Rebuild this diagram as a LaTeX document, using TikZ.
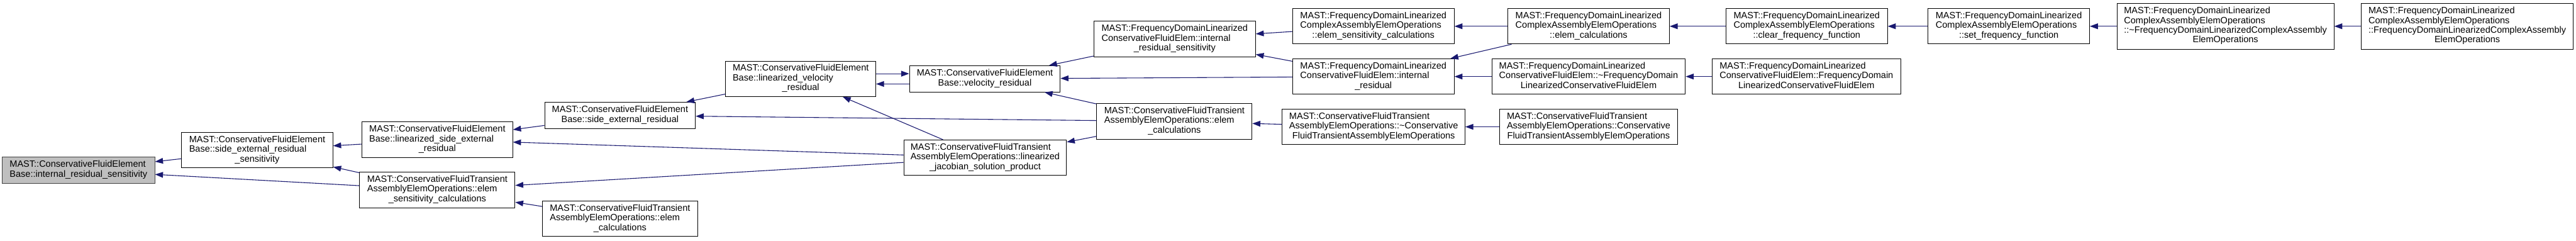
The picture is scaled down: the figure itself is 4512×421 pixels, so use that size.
\documentclass[tikz,border=0pt]{standalone}
\usepackage{fontspec}
\setmainfont{Liberation Sans}
\usetikzlibrary{arrows.meta}
\definecolor{edgec}{HTML}{191970}
\definecolor{focusfill}{HTML}{BFBFBF}
\newcommand{\lline}[1]{\multicolumn{1}{@{}l@{}}{#1}}
\newcommand{\tb}[1]{\begin{tabular}{@{}c@{}}#1\end{tabular}}
\tikzset{
 box/.style={rectangle, draw=black, line width=1pt, fill=white, inner sep=0pt, font=\fontsize{16}{17}\selectfont},
 focus/.style={box, fill=focusfill, draw=black!75},
 arr/.style={draw=edgec, line width=1.2pt, -{Triangle[length=14pt,width=10pt]}},
}
\begin{document}
\begin{tikzpicture}[x=1pt,y=-1pt]
\fill[white] (0,0) rectangle (4512,421);
\useasboundingbox (0,0) rectangle (4512,421);

\node[focus, minimum width=267pt, minimum height=46pt] (A) at (137.5,298) {\tb{\lline{MAST::ConservativeFluidElement}\\Base::internal\_residual\_sensitivity}};
\node[box, minimum width=265pt, minimum height=62pt] (B) at (450.5,263) {\tb{\lline{MAST::ConservativeFluidElement}\\\lline{Base::side\_external\_residual}\\\_sensitivity}};
\node[box, minimum width=264pt, minimum height=63pt] (C) at (766,244.5) {\tb{\lline{MAST::ConservativeFluidElement}\\\lline{Base::linearized\_side\_external}\\\_residual}};
\node[box, minimum width=272pt, minimum height=63pt] (E) at (766,332.5) {\tb{\lline{MAST::ConservativeFluidTransient}\\\lline{AssemblyElemOperations::elem}\\\_sensitivity\_calculations}};
\node[box, minimum width=264pt, minimum height=46pt] (D) at (1086,202) {\tb{\lline{MAST::ConservativeFluidElement}\\Base::side\_external\_residual}};
\node[box, minimum width=272pt, minimum height=62pt] (F) at (1086,383) {\tb{\lline{MAST::ConservativeFluidTransient}\\\lline{AssemblyElemOperations::elem}\\\_calculations}};
\node[box, minimum width=263pt, minimum height=62pt] (G) at (1402.5,138) {\tb{\lline{MAST::ConservativeFluidElement}\\\lline{Base::linearized\_velocity}\\\_residual}};
\node[box, minimum width=264pt, minimum height=46pt] (H) at (1725,138) {\tb{\lline{MAST::ConservativeFluidElement}\\Base::velocity\_residual}};
\node[box, minimum width=285pt, minimum height=62pt] (I) at (1725.5,276) {\tb{\lline{MAST::ConservativeFluidTransient}\\\lline{AssemblyElemOperations::linearized}\\\_jacobian\_solution\_product}};
\node[box, minimum width=283pt, minimum height=63pt] (J) at (2057.5,68.5) {\tb{\lline{MAST::FrequencyDomainLinearized}\\\lline{ConservativeFluidElem::internal}\\\_residual\_sensitivity}};
\node[box, minimum width=272pt, minimum height=63pt] (K) at (2057,212.5) {\tb{\lline{MAST::ConservativeFluidTransient}\\\lline{AssemblyElemOperations::elem}\\\_calculations}};
\node[box, minimum width=283pt, minimum height=62pt] (L) at (2405.5,46) {\tb{\lline{MAST::FrequencyDomainLinearized}\\\lline{ComplexAssemblyElemOperations}\\::elem\_sensitivity\_calculations}};
\node[box, minimum width=283pt, minimum height=62pt] (M) at (2405.5,134) {\tb{\lline{MAST::FrequencyDomainLinearized}\\\lline{ConservativeFluidElem::internal}\\\_residual}};
\node[box, minimum width=320pt, minimum height=62pt] (N) at (2406,222) {\tb{\lline{MAST::ConservativeFluidTransient}\\\lline{AssemblyElemOperations::\textasciitilde Conservative}\\FluidTransientAssemblyElemOperations}};
\node[box, minimum width=283pt, minimum height=62pt] (O) at (2782.5,46) {\tb{\lline{MAST::FrequencyDomainLinearized}\\\lline{ComplexAssemblyElemOperations}\\::elem\_calculations}};
\node[box, minimum width=339pt, minimum height=62pt] (P) at (2782.5,134) {\tb{\lline{MAST::FrequencyDomainLinearized}\\\lline{ConservativeFluidElem::\textasciitilde FrequencyDomain}\\LinearizedConservativeFluidElem}};
\node[box, minimum width=311pt, minimum height=62pt] (Q) at (2782.5,222) {\tb{\lline{MAST::ConservativeFluidTransient}\\\lline{AssemblyElemOperations::Conservative}\\FluidTransientAssemblyElemOperations}};
\node[box, minimum width=283pt, minimum height=62pt] (R) at (3164.5,46) {\tb{\lline{MAST::FrequencyDomainLinearized}\\\lline{ComplexAssemblyElemOperations}\\::clear\_frequency\_function}};
\node[box, minimum width=330pt, minimum height=62pt] (S) at (3164,134) {\tb{\lline{MAST::FrequencyDomainLinearized}\\\lline{ConservativeFluidElem::FrequencyDomain}\\LinearizedConservativeFluidElem}};
\node[box, minimum width=283pt, minimum height=62pt] (T) at (3518.5,46) {\tb{\lline{MAST::FrequencyDomainLinearized}\\\lline{ComplexAssemblyElemOperations}\\::set\_frequency\_function}};
\node[box, minimum width=380pt, minimum height=80pt] (U) at (3898,46) {\tb{\lline{MAST::FrequencyDomainLinearized}\\\lline{ComplexAssemblyElemOperations}\\\lline{::\textasciitilde FrequencyDomainLinearizedComplexAssembly}\\ElemOperations}};
\node[box, minimum width=371pt, minimum height=80pt] (V) at (4321.5,46) {\tb{\lline{MAST::FrequencyDomainLinearized}\\\lline{ComplexAssemblyElemOperations}\\\lline{::FrequencyDomainLinearizedComplexAssembly}\\ElemOperations}};

\draw[arr] (B) -- (A);
\draw[arr] (E) -- (A);
\draw[arr] (C) -- (B);
\draw[arr] (E) -- (B);
\draw[arr] (D) -- (C);
\draw[arr] (I) -- (C);
\draw[arr] (I) -- (E);
\draw[arr] (F) -- (E);
\draw[arr] (G) -- (D);
\draw[arr] (K) -- (D);
\draw[arr] ([yshift=9pt]G.east) -- ([yshift=9pt]H.west);
\draw[arr] ([yshift=-9pt]H.west) -- ([yshift=-9pt]G.east);
\draw[arr] (I) -- (G);
\draw[arr] (J) -- (H);
\draw[arr] (M) -- (H);
\draw[arr] (K) -- (H);
\draw[arr] (K) -- (I);
\draw[arr] (L) -- (J);
\draw[arr] (M) -- (J);
\draw[arr] (N) -- (K);
\draw[arr] (O) -- (L);
\draw[arr] (O) -- (M);
\draw[arr] (P) -- (M);
\draw[arr] (Q) -- (N);
\draw[arr] (R) -- (O);
\draw[arr] (S) -- (P);
\draw[arr] (T) -- (R);
\draw[arr] (U) -- (T);
\draw[arr] (V) -- (U);
\end{tikzpicture}
\end{document}
